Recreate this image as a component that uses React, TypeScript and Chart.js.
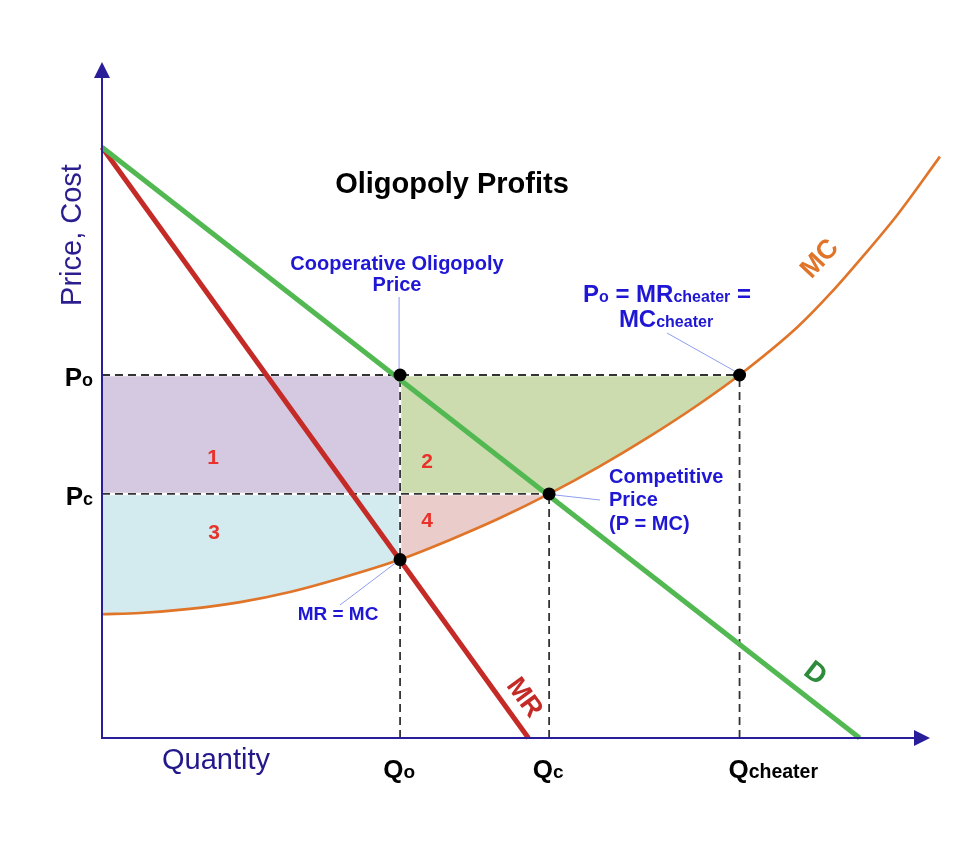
import React, { useEffect, useRef } from "react";
import { Chart, registerables } from "chart.js";

Chart.register(...registerables);

// ---- data ----
const Q_O = 36;
const Q_C = 54;
const Q_CHEATER = 77;
const P_O = 53.7;
const P_C = 36.1;
const MR_EQ_MC = 26.4;

const demandX = [0, 91.5];
const demandY = [87.4, 0];
const mrX = [0, 51.5];
const mrY = [87.4, 0];
const mcX = [0, 4.6, 10.6, 16.7, 22.7, 28.7, 36, 42, 48, 54, 60, 66, 72, 77, 84, 88, 92, 96, 101.2];
const mcY = [18.3, 18.5, 19.1, 20.1, 21.6, 23.6, 26.4, 29.3, 32.5, 36.1, 40.1, 44.5, 49.3, 53.7, 60.8, 65.8, 71.4, 77.3, 86.0];

const priceTickValues = [P_O, P_C];
const priceTickMain = ["P", "P"];
const priceTickSub = ["o", "c"];
const qtyTickValues = [Q_O, Q_C, Q_CHEATER];
const qtyTickMain = ["Q", "Q", "Q"];
const qtyTickSub = ["o", "c", "cheater"];
const regionLabels = ["1", "2", "3", "4"];

const FF = '"Liberation Sans", Arial, Helvetica, sans-serif';
const BLUE = "#1f17d4";
const AXIS = "#2a1d9a";

type Pt = { x: number; y: number };
const pts = (xs: number[], ys: number[]): Pt[] => xs.map((x, i) => ({ x, y: ys[i] }));
const mcPts = pts(mcX, mcY);
const mcSeg = (a: number, b: number) => mcPts.filter((p) => p.x >= a - 1e-9 && p.x <= b + 1e-9);

function drawParts(
  ctx: CanvasRenderingContext2D,
  parts: [string, string][],
  x: number,
  y: number,
  align: "left" | "center" | "right",
  color: string
) {
  ctx.save();
  ctx.fillStyle = color;
  ctx.textBaseline = "alphabetic";
  ctx.textAlign = "left";
  let total = 0;
  const widths = parts.map(([t, f]) => {
    ctx.font = f;
    const w = ctx.measureText(t).width;
    total += w;
    return w;
  });
  let cx = align === "left" ? x : align === "center" ? x - total / 2 : x - total;
  parts.forEach(([t, f], i) => {
    ctx.font = f;
    ctx.fillText(t, cx, y);
    cx += widths[i];
  });
  ctx.restore();
}

function text(
  ctx: CanvasRenderingContext2D,
  t: string,
  x: number,
  y: number,
  font: string,
  color: string,
  align: CanvasTextAlign = "center",
  rot = 0
) {
  ctx.save();
  ctx.translate(x, y);
  if (rot) ctx.rotate((rot * Math.PI) / 180);
  ctx.font = font;
  ctx.fillStyle = color;
  ctx.textAlign = align;
  ctx.textBaseline = "middle";
  ctx.fillText(t, 0, 0);
  ctx.restore();
}

const annotPlugin = {
  id: "annot",
  beforeDatasetsDraw(chart: any) {
    const ctx: CanvasRenderingContext2D = chart.ctx;
    const X = (v: number) => chart.scales.x.getPixelForValue(v);
    const Y = (v: number) => chart.scales.y.getPixelForValue(v);
    ctx.save();
    ctx.strokeStyle = "#8e9ef0";
    ctx.lineWidth = 1;
    const seg = (a: number, b: number, c: number, d: number) => {
      ctx.beginPath();
      ctx.moveTo(a, b);
      ctx.lineTo(c, d);
      ctx.stroke();
    };
    seg(X(Q_O) - 1, 289, X(Q_O) - 1, Y(P_O) - 6);
    seg(659, 325, X(Q_CHEATER) - 5, Y(P_O) - 4);
    seg(592, 492, X(Q_C) + 6, Y(P_C) + 1);
    seg(332, 597, X(Q_O) - 4, Y(MR_EQ_MC) + 3);
    ctx.restore();
  },
  afterDatasetsDraw(chart: any) {
    const ctx: CanvasRenderingContext2D = chart.ctx;
    const X = (v: number) => chart.scales.x.getPixelForValue(v);
    const Y = (v: number) => chart.scales.y.getPixelForValue(v);
    ctx.save();
    ctx.strokeStyle = AXIS;
    ctx.fillStyle = AXIS;
    ctx.lineWidth = 2;
    ctx.beginPath();
    ctx.moveTo(X(0), Y(0) + 1);
    ctx.lineTo(X(0), Y(100) + 14);
    ctx.moveTo(X(0) - 1, Y(0));
    ctx.lineTo(X(100) - 14, Y(0));
    ctx.stroke();
    ctx.beginPath();
    ctx.moveTo(X(0), Y(100));
    ctx.lineTo(X(0) - 8, Y(100) + 16);
    ctx.lineTo(X(0) + 8, Y(100) + 16);
    ctx.closePath();
    ctx.fill();
    ctx.beginPath();
    ctx.moveTo(X(100), Y(0));
    ctx.lineTo(X(100) - 16, Y(0) - 8);
    ctx.lineTo(X(100) - 16, Y(0) + 8);
    ctx.closePath();
    ctx.fill();
    ctx.restore();
  },
  afterDraw(chart: any) {
    const ctx: CanvasRenderingContext2D = chart.ctx;
    const X = (v: number) => chart.scales.x.getPixelForValue(v);
    const Y = (v: number) => chart.scales.y.getPixelForValue(v);
    const bold = (s: number) => `bold ${s}px ${FF}`;

    // title
    text(ctx, "Oligopoly Profits", 444, 177, bold(29), "#000");
    // axis titles
    text(ctx, "Price, Cost", 65, 227, `29px ${FF}`, "#2b1f8f", "center", -90);
    text(ctx, "Quantity", 208, 753, `29px ${FF}`, "#22188a");

    // price ticks
    priceTickValues.forEach((v, i) => {
      drawParts(ctx, [[priceTickMain[i], bold(26)], [priceTickSub[i], bold(18)]], 85, Y(v) + 11, "right", "#000");
    });
    // quantity ticks
    qtyTickValues.forEach((v, i) => {
      const sub = qtyTickSub[i];
      if (sub.length > 2) {
        ctx.font = bold(26);
        const qw = ctx.measureText(qtyTickMain[i]).width;
        drawParts(ctx, [[qtyTickMain[i], bold(26)], [sub, bold(19.5)]], X(v) - qw / 2 - 1, 770, "left", "#000");
      } else {
        drawParts(ctx, [[qtyTickMain[i], bold(26)], [sub, bold(19)]], X(v) - 1, 770, "center", "#000");
      }
    });

    // annotations
    text(ctx, "Cooperative Oligopoly", 389, 256, bold(20), BLUE);
    text(ctx, "Price", 389, 277, bold(20), BLUE);

    drawParts(
      ctx,
      [
        ["P", bold(24)],
        ["o", bold(16)],
        [" = MR", bold(24)],
        ["cheater", bold(16)],
        [" =", bold(24)],
      ],
      659,
      294,
      "center",
      BLUE
    );
    drawParts(ctx, [["MC", bold(24)], ["cheater", bold(16)]], 658, 319, "center", BLUE);

    text(ctx, "Competitive", 601, 469, bold(20), BLUE, "left");
    text(ctx, "Price", 601, 492, bold(20), BLUE, "left");
    text(ctx, "(P = MC)", 601, 516, bold(20), BLUE, "left");

    text(ctx, "MR = MC", 330, 607, bold(19), BLUE);

    // region numbers
    const RED = "#e8322b";
    text(ctx, regionLabels[0], 205, 450, bold(21), RED);
    text(ctx, regionLabels[1], 419, 454, bold(21), RED);
    text(ctx, regionLabels[2], 206, 525, bold(21), RED);
    text(ctx, regionLabels[3], 419, 513, bold(21), RED);

    // curve labels
    text(ctx, "MC", 812, 251, bold(27), "#e07428", "center", -47);
    text(ctx, "D", 807, 666, bold(28), "#2e8b3c", "center", 38);
    text(ctx, "MR", 516, 690, bold(27), "#c42a26", "center", 54);
  },
};

export default function App() {
  const ref = useRef<HTMLCanvasElement | null>(null);

  useEffect(() => {
    if (!ref.current) return;
    const fillDs = (data: Pt[], value: number, color: string) => ({
      data,
      showLine: true,
      pointRadius: 0,
      borderWidth: 0,
      borderColor: "rgba(0,0,0,0)",
      backgroundColor: color,
      fill: { value },
      cubicInterpolationMode: "monotone",
      order: 20,
      clip: false,
    });
    const guides: Pt[][] = [
      [{ x: 0, y: P_O }, { x: Q_CHEATER, y: P_O }],
      [{ x: 0, y: P_C }, { x: Q_C, y: P_C }],
      [{ x: Q_O, y: 0 }, { x: Q_O, y: P_O }],
      [{ x: Q_C, y: 0 }, { x: Q_C, y: P_C }],
      [{ x: Q_CHEATER, y: 0 }, { x: Q_CHEATER, y: P_O }],
    ];
    const guideUnder = guides.map((g) => ({
      data: g,
      showLine: true,
      pointRadius: 0,
      borderWidth: 2.5,
      borderColor: "#ffffff",
      fill: false,
      order: 12,
      clip: false,
    }));
    const guideDash = guides.map((g) => ({
      data: g,
      showLine: true,
      pointRadius: 0,
      borderWidth: 1.8,
      borderColor: "#333333",
      borderDash: [8, 5],
      fill: false,
      order: 11,
      clip: false,
    }));

    const chart = new Chart(ref.current, {
      type: "line",
      data: {
        datasets: [
          fillDs([{ x: 0, y: P_C }, { x: Q_O, y: P_C }], P_O, "#d5c8e1"),
          fillDs([{ x: Q_O, y: P_C }, { x: Q_C + 0.1, y: P_C }], P_O, "#cddcaf"),
          fillDs(mcSeg(Q_C, Q_CHEATER), P_O, "#cddcaf"),
          fillDs(mcSeg(0, Q_O), P_C, "#d3eaef"),
          fillDs(mcSeg(Q_O, Q_C), P_C, "#eacdcb"),
          ...guideUnder,
          ...guideDash,
          {
            data: mcPts,
            showLine: true,
            pointRadius: 0,
            borderWidth: 2.6,
            borderColor: "#e07428",
            fill: false,
            cubicInterpolationMode: "monotone",
            order: 4,
            clip: false,
          },
          {
            data: pts(mrX, mrY),
            showLine: true,
            pointRadius: 0,
            borderWidth: 5,
            borderColor: "#c42a26",
            fill: false,
            order: 3,
            clip: false,
          },
          {
            data: pts(demandX, demandY),
            showLine: true,
            pointRadius: 0,
            borderWidth: 5,
            borderColor: "#52b952",
            fill: false,
            order: 2,
            clip: false,
          },
          {
            data: [
              { x: Q_O, y: P_O },
              { x: Q_C, y: P_C },
              { x: Q_CHEATER, y: P_O },
              { x: Q_O, y: MR_EQ_MC },
            ],
            showLine: false,
            pointRadius: 6.5,
            pointBackgroundColor: "#000",
            pointBorderWidth: 0,
            pointBorderColor: "#000",
            fill: false,
            order: 1,
            clip: false,
          },
        ] as any,
      },
      options: {
        animation: false,
        responsive: false,
        events: [],
        layout: { padding: { left: 94, right: 38, top: 54, bottom: 100 } },
        scales: {
          x: { type: "linear", min: 0, max: 100, display: false },
          y: { type: "linear", min: 0, max: 100, display: false },
        },
        plugins: {
          legend: { display: false },
          tooltip: { enabled: false },
          title: { display: false },
        },
      } as any,
      plugins: [annotPlugin],
    });
    return () => chart.destroy();
  }, []);

  return (
    <div style={{ width: 960, height: 830 }}>
      <canvas ref={ref} width={960} height={830} style={{ display: "block", width: 960, height: 830 }} />
    </div>
  );
}
